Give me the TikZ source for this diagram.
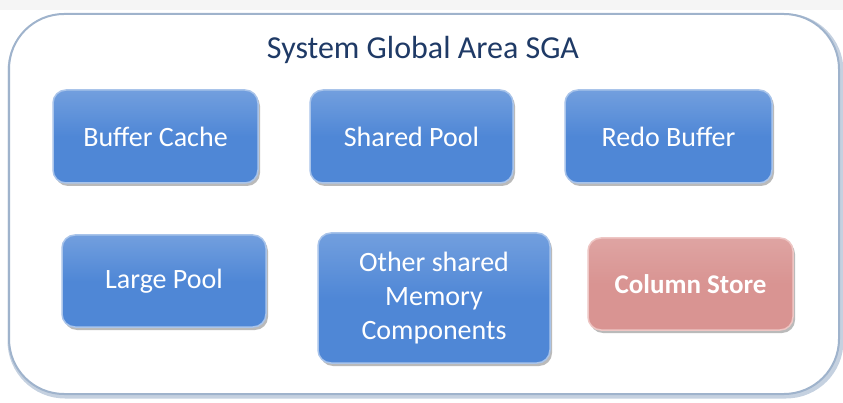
\documentclass[tikz,border=0pt]{standalone}
\usepackage{fontspec}
\setmainfont{Carlito}
\usetikzlibrary{shadows,fadings}
\definecolor{boxblue}{HTML}{4F87D6}
\definecolor{boxblueedge}{HTML}{A9C4EA}
\definecolor{boxpink}{HTML}{D99492}
\definecolor{boxpinkedge}{HTML}{EEC6C4}
\definecolor{titleblue}{HTML}{1F3A66}
\definecolor{frameedge}{HTML}{9FB3CC}
\tikzset{
  x=1pt, y=-1pt,
  membox/.style={draw=boxblueedge, line width=1.5pt, rounded corners=13pt,
    top color=boxblue!80!white, bottom color=boxblue, middle color=boxblue,
    drop shadow={shadow xshift=2pt, shadow yshift=-3pt, fill=black!45, opacity=0.6},
    text=white, font=\fontsize{28}{34}\selectfont, align=center, inner sep=0pt},
  pinkbox/.style={membox, draw=boxpinkedge,
    top color=boxpink!85!white, bottom color=boxpink, middle color=boxpink,
    font=\bfseries\fontsize{27}{34}\selectfont},
}
\begin{document}
\begin{tikzpicture}
\useasboundingbox (0,0) rectangle (843,403);
\fill[black!4] (0,0) rectangle (843,10);
% outer SGA frame
\draw[frameedge!60, line width=5pt, rounded corners=55pt] (10,16) rectangle (841,396);
\draw[frameedge, line width=2pt, rounded corners=55pt, fill=white] (9,14) rectangle (839,394);
\node[text=titleblue, font=\fontsize{32}{38}\selectfont] (title) at (423,50) {System Global Area SGA};
% memory components
\node[membox, minimum width=205pt, minimum height=93pt] (buffer) at (155.5,136.5) {Buffer Cache};
\node[membox, minimum width=203pt, minimum height=93pt] (shared) at (411.5,136.5) {Shared Pool};
\node[membox, minimum width=207pt, minimum height=93pt] (redo) at (668.5,136.5) {Redo Buffer};
\node[membox, minimum width=204pt, minimum height=92pt] (large) at (164,281) {Large Pool};
\node[membox, minimum width=232pt, minimum height=130pt] (other) at (434,298) {Other shared\\Memory\\Components};
\node[pinkbox, minimum width=205pt, minimum height=92pt] (column) at (690.5,284) {Column Store};
\end{tikzpicture}
\end{document}
